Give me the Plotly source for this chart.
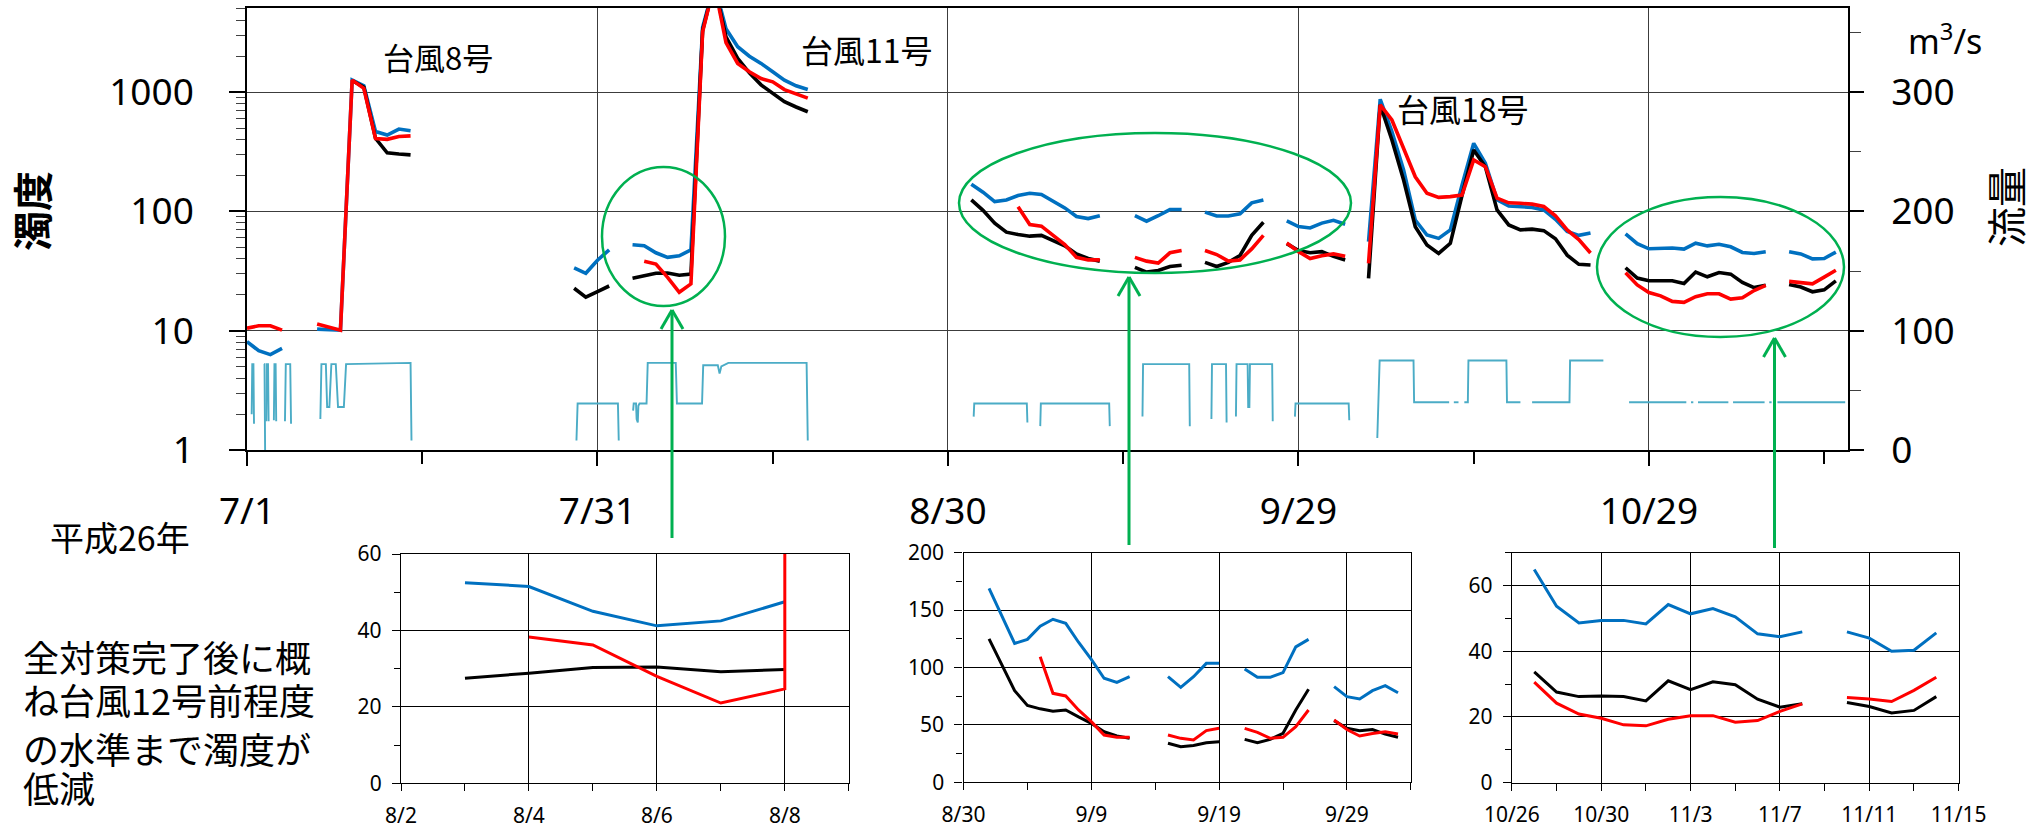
import datetime as dt
import plotly.graph_objects as go

N = None
START = dt.datetime(2014, 7, 1)
DAY = 86400000

# ---------------- daily turbidity (index 0 = 7/1/2014) ----------------
blue_jul = [8.1, 6.8, 6.3, 7.1, N, N, 10.3, 10.2, 10.1, 1260, 1130, 468, 437, 490, 475,
            N, N, N, N, N, N, N, N, N, N, N, N, N, 33.7, 30.3, 39]
blue_aug = [47.5, N, 52.5, 51.5, 45, 41.2, 42.5, 47.5, 3500, 8000, 3400, 2400, 2000, 1740,
            1480, 1260, 1130, 1050, N, N, N, N, N, N, N, N, N, N, N, N, N]
blue_sep = [169, 145, 121, 124.5, 136, 142, 138.5, 122, 107, 90.6, 87, 92, N, N, 92, 82.7,
            92, 103.6, 103.6, N, 98.7, 91.4, 91.4, 95.5, 118, 124.5, N, 83.3, 74.6, 72.6]
blue_oct = [79.8, 84.2, 78, N, 55.7, 871, 466, 222, 84.7, 63.4, 59.4, 69.8, 166, 372, 253,
            125, 111, 110, 108, 103, 86, 68, 63, 66, N, N, 64.9, 53.7, 48.6, 49.4, 49.4]
blue_nov = [48.3, 54.2, 51.4, 53, 50.5, 45.3, 44.4, 45.9, N, 45.9, 44, 40, 40.3, 45.6]

red_jul = [10.5, 11.0, 11.0, 10.1, N, N, 11.4, 10.8, 10.1, 1260, 1075, 408, 402, 425, 430,
           N, N, N, N, N, N, N, N, N, N, N, N, N, N, N, N]
red_aug = [N, N, N, 38.3, 36.2, 28, 21, 24.7, 3200, 8000, 2600, 1740, 1480, 1300, 1220, 1050,
           960, 890, N, N, N, N, N, N, N, N, N, N, N, N, N]
red_sep = [N, N, N, N, 109.4, 77.5, 75.2, 63, 52.8, 41.2, 39.2, 39.2, N, N, 41.2, 38.3, 36.9,
           45, 47, N, 47, 43.5, 38.3, 39.2, 48.5, 63, N, 54.3, 46, 40.3]
red_oct = [42.5, 44, 42.1, N, 36.7, 780, 584, 338, 195, 142, 131, 133, 137, 270, 237, 129,
           118, 117, 115, 110, 92, 70, 58, 44.8, N, N, 30.6, 24.2, 20.9, 19.6, 17.6]
red_nov = [17.3, 19.3, 20.4, 20.4, 18.4, 18.9, 21.7, 24, N, 25.9, 25.5, 24.7, 28.1, 32.1]

black_jul = [N, N, N, N, N, N, N, N, N, 1250, 1100, 410, 310, 303, 298,
             N, N, N, N, N, N, N, N, N, N, N, N, N, 22.7, 19.1, 21.3]
black_aug = [23.7, N, 27.5, 28.8, 30.3, 30.4, 29.2, 29.8, 3300, 8000, 2900, 1920, 1450, 1150,
             980, 830, 750, 685, N, N, N, N, N, N, N, N, N, N, N, N, N]
black_sep = [125, 102, 79.8, 67, 64, 62, 63, 57, 51.4, 44, 40.3, 38.3, N, N, 34, 31, 32, 34.5,
             35.4, N, 37.4, 34.5, 37.4, 42.7, 63, 81, N, 53.7, 47, 45]
black_oct = [46, 42, 39.2, N, 27.5, 780, 397, 183, 74.5, 52.3, 44.5, 54, 136, 327, 237, 103,
             77, 70, 71, 69, 59, 43, 36, 35.5, N, N, 33.7, 27.6, 26.2, 26.4, 26.2]
black_nov = [24.9, 31, 28.3, 30.7, 29.8, 25.4, 23, 24, N, 24.4, 23.2, 21.2, 22, 26.2]

blue = blue_jul + blue_aug + blue_sep + blue_oct + blue_nov
red = red_jul + red_aug + red_sep + red_oct + red_nov
black = black_jul + black_aug + black_sep + black_oct + black_nov

# ---------------- discharge (m3/s), day offset from 7/1 ----------------
flow_day = [0.40, 0.45, 0.55, 0.60, N, 1.45, 1.50, 1.55, N, 1.65, 1.70, 1.80, 1.85, N,
            2.30, 2.35, 2.45, 2.50, N, 3.25, 3.32, 3.70, 3.77, N,
            6.28, 6.37, 6.75, 6.86, 7.05, 7.22, 7.60, 7.79, 8.29, 8.48, 14.0, 14.08, N,
            28.2, 28.3, 31.75, 31.82, N,
            33.05, 33.1, 33.3, 33.35, 33.45, 33.5, 33.6, 34.2, 34.3, 36.7, 36.8, 38.95, 39.05,
            40.3, 40.45, 40.6, 41.2, 47.9, 48.0, N,
            62.2, 62.25, 66.75, 66.8, N, 67.9, 67.95, 73.8, 73.85, N,
            76.65, 76.7, 80.65, 80.7, N, 82.55, 82.6, 83.8, 83.85, N,
            84.65, 84.7, 85.65, 85.7, 85.8, 85.85, 87.75, 87.8, N,
            89.7, 89.75, 94.3, 94.35, N,
            96.75, 96.85, 96.95, 99.85, 99.9, 102.9, N, 103.3, 103.7, N,
            104.2, 104.5, 104.55, 107.8, 107.85, 109.0, N, 110.0, 113.2, 113.25, 116.1, N,
            118.3, 123.2, N, 123.6, 123.8, N, 124.2, 126.8, N, 127.2, 129.9, N,
            130.3, 130.5, N, 131.0, 136.8]
flow_val = [30, 72, 72, 22, N, 72, 72, 0, N, 24, 72, 72, 24, N,
            25, 72, 72, 24, N, 24, 72, 72, 22, N,
            26, 72, 72, 36, 36, 72, 72, 36, 36, 72, 73, 8, N,
            8, 39, 39, 8, N,
            33, 39, 39, 26, 23, 37, 39, 39, 73, 73, 39, 39, 71,
            71, 64, 70, 73, 73, 8, N,
            28, 39, 39, 23, N, 20, 39, 39, 20, N,
            28, 72, 72, 20, N, 26, 72, 72, 23, N,
            28, 72, 72, 36, 36, 72, 72, 24, N,
            28, 39, 39, 25, N,
            10, 40, 75, 75, 40, 40, N, 40, 40, N,
            40, 40, 75, 75, 40, 40, N, 40, 40, 75, 75, N,
            40, 40, N, 40, 40, N, 40, 40, N, 40, 40, N,
            40, 40, N, 40, 40]

# ---------------- styling ----------------
W, H = 2034, 828
BLUE, RED, BLACK, FLOW, GREEN = '#0070C0', '#FF0000', '#000000', '#4BACC6', '#00B050'
GRID = '#3C3C3C'
LAT = 'Noto Sans, Noto Sans CJK JP, sans-serif'
JP = 'Noto Sans CJK JP, Noto Sans, sans-serif'


def px(x):
    return x / W


def py(y):
    return 1 - y / H


dates = [START + dt.timedelta(days=i) for i in range(len(blue))]
flow_x = [None if d is None else START + dt.timedelta(days=d) for d in flow_day]

fig = go.Figure()

# main chart
fig.add_trace(go.Scatter(x=flow_x, y=flow_val, mode='lines', xaxis='x', yaxis='y2',
                         line=dict(color=FLOW, width=1.9), hoverinfo='skip'))
for ser, col in ((blue, BLUE), (black, BLACK), (red, RED)):
    fig.add_trace(go.Scatter(x=dates, y=ser, mode='lines', xaxis='x', yaxis='y',
                             line=dict(color=col, width=3.6)))


def idx(m, d):
    return (dt.datetime(2014, m, d) - START).days


# inset 1 (8/2 - 8/9)
a, b = idx(8, 2), idx(8, 8)
for ser, col in ((blue, BLUE), (black, BLACK)):
    fig.add_trace(go.Scatter(x=dates[a:b + 1], y=ser[a:b + 1], mode='lines', xaxis='x2',
                             yaxis='y3', line=dict(color=col, width=3)))
fig.add_trace(go.Scatter(x=dates[a:b + 1] + [dates[b]], y=red[a:b + 1] + [red[b + 1]],
                         mode='lines', xaxis='x2', yaxis='y3', line=dict(color=RED, width=3)))

# inset 2 (8/30 - 10/4) and inset 3 (10/26 - 11/15)
for (m0, d0, m1, d1, xa, ya) in ((8, 30, 10, 4, 'x3', 'y4'), (10, 26, 11, 14, 'x4', 'y5')):
    a, b = idx(m0, d0), min(idx(m1, d1), len(blue) - 1)
    for ser, col in ((blue, BLUE), (black, BLACK), (red, RED)):
        fig.add_trace(go.Scatter(x=dates[a:b + 1], y=ser[a:b + 1], mode='lines', xaxis=xa,
                                 yaxis=ya, line=dict(color=col, width=3)))

# ---------------- axes ----------------
tickc = dict(tickcolor='black', tickwidth=1.5)
log_minor = [m * 10 ** e for e in range(4) for m in range(2, 10) if m * 10 ** e < 5040]

layout = dict(
    template='none',
    width=W, height=H, margin=dict(l=0, r=0, t=0, b=0, pad=0), showlegend=False,
    paper_bgcolor='white', plot_bgcolor='white',
    xaxis=dict(domain=[px(247), px(1848)], anchor='y', type='date', automargin=False,
               range=[START, START + dt.timedelta(days=137.04)],
               tick0=START, dtick=30 * DAY, tickformat='%-m/%-d',
               ticks='outside', ticklen=14, **tickc,
               showgrid=True, gridcolor=GRID, gridwidth=1.4,
               showline=True, linecolor='black', linewidth=1.5, mirror=True,
               zeroline=False, ticklabelstandoff=14,
               minor=dict(tick0=START, dtick=15 * DAY, ticks='outside', ticklen=12,
                          tickcolor='black', tickwidth=1.5, showgrid=False),
               tickfont=dict(family=LAT, size=37, color='black')),
    yaxis=dict(domain=[py(450), py(8.3)], anchor='x', type='log', range=[0, 3.7025],
               automargin=False, tickmode='array', tickvals=[1, 10, 100, 1000],
               ticks='outside', ticklen=16, **tickc,
               showgrid=True, gridcolor=GRID, gridwidth=1.4,
               showline=True, linecolor='black', linewidth=1.5, mirror=True,
               zeroline=False, ticklabelstandoff=28,
               minor=dict(tickmode='array', tickvals=log_minor, ticks='outside',
                          ticklen=9, tickcolor='#404040', tickwidth=1.2, showgrid=False),
               tickfont=dict(family=LAT, size=37, color='black')),
    yaxis2=dict(domain=[py(450), py(8.3)], anchor='x', overlaying='y', side='right',
                automargin=False, range=[0, 370.2], tickmode='array', tickvals=[0, 100, 200, 300],
                ticks='outside', ticklen=14, **tickc, showgrid=False, zeroline=False,
                showline=True, linecolor='black', linewidth=1.5, ticklabelstandoff=20,
                minor=dict(tickmode='array', tickvals=list(range(50, 371, 100)),
                           ticks='outside', ticklen=11, tickcolor='#404040', tickwidth=1.2),
                tickfont=dict(family=LAT, size=37, color='black')),
)


def inset(xdom, ydom, x0, x1, dt_days, minor_days, ymax, ydt, yminor, yname):
    xa = dict(domain=[px(xdom[0]), px(xdom[1])], anchor=yname, type='date', automargin=False,
              range=[x0, x1], tick0=x0, dtick=dt_days * DAY, tickformat='%-m/%-d',
              ticks='outside', ticklen=7, tickcolor='black', tickwidth=1.2,
              showgrid=True, gridcolor='black', gridwidth=1.1,
              showline=True, linecolor='black', linewidth=1.3, mirror=True,
              zeroline=False, ticklabelstandoff=6,
              minor=dict(tick0=x0, dtick=minor_days * DAY, ticks='outside', ticklen=7,
                         tickcolor='black', tickwidth=1.2, showgrid=False),
              tickfont=dict(family=LAT, size=21, color='black'))
    ya = dict(domain=[py(ydom[1]), py(ydom[0])], range=[0, ymax], dtick=ydt, tick0=0,
              automargin=False,
              ticks='outside', ticklen=8, tickcolor='black', tickwidth=1.2,
              showgrid=True, gridcolor='black', gridwidth=1.1,
              showline=True, linecolor='black', linewidth=1.3, mirror=True,
              zeroline=False, ticklabelstandoff=6,
              minor=dict(tick0=0, dtick=yminor, ticks='outside', ticklen=6,
                         tickcolor='black', tickwidth=1.2, showgrid=False),
              tickfont=dict(family=LAT, size=21, color='black'))
    return xa, ya


eps = dt.timedelta(minutes=5)
xa, ya = inset((401, 849), (554, 783.3), dt.datetime(2014, 8, 2), dt.datetime(2014, 8, 9) + eps,
               2, 1, 60, 20, 10, 'y3')
layout['xaxis2'] = xa; ya['anchor'] = 'x2'; layout['yaxis3'] = ya
xa, ya = inset((963.5, 1410.8), (552.7, 782.3), dt.datetime(2014, 8, 30),
               dt.datetime(2014, 10, 4), 10, 5, 200, 50, 25, 'y4')
layout['xaxis3'] = xa; ya['anchor'] = 'x3'; layout['yaxis4'] = ya
xa, ya = inset((1511.9, 1958.7), (552.7, 782.7), dt.datetime(2014, 10, 26),
               dt.datetime(2014, 11, 15) + eps, 4, 2, 70, 20, 10, 'y5')
layout['xaxis4'] = xa; ya['anchor'] = 'x4'; layout['yaxis5'] = ya

fig.update_layout(**layout)

# ---------------- annotations ----------------
def text(x, y, s, size, family=JP, angle=0, xanchor='center'):
    fig.add_annotation(x=px(x), y=py(y), xref='paper', yref='paper', text=s, showarrow=False,
                       textangle=angle, xanchor=xanchor, yanchor='middle',
                       font=dict(family=family, size=size, color='black'))


text(31, 211, '<b>濁度</b>', 40, angle=-90)
text(2005, 207, '流量', 40, angle=-90)
text(1945, 40, 'm<sup>3</sup>/s', 34, family=LAT)
text(438, 57, '台風8号', 31)
text(867, 49, '台風11号', 32)
text(1463, 108, '台風18号', 32)
text(120, 536, '平成26年', 34)
for yy, s in ((656, '全対策完了後に概'), (699, 'ね台風12号前程度'),
              (748, 'の水準まで濁度が'), (787, '低減')):
    text(21, yy, s, 36, xanchor='left')

# ---------------- green highlight ellipses and arrows ----------------
for (x0, x1, y0, y1) in ((602, 725, 167, 306), (959, 1351, 133, 273), (1597, 1844, 197, 337)):
    fig.add_shape(type='circle', xref='paper', yref='paper', x0=px(x0), x1=px(x1),
                  y0=py(y1), y1=py(y0), line=dict(color=GREEN, width=2.5))
for (ax, ytip, ybot) in ((672, 310, 538), (1129, 277, 545), (1774.5, 338, 548)):
    for (xa_, ya_, xb_, yb_) in ((ax, ybot, ax, ytip), (ax - 11, ytip + 19, ax, ytip),
                                 (ax + 11, ytip + 19, ax, ytip)):
        fig.add_shape(type='line', xref='paper', yref='paper', x0=px(xa_), y0=py(ya_),
                      x1=px(xb_), y1=py(yb_), line=dict(color=GREEN, width=3))

fig.write_html('out.html', config={'displayModeBar': False},
               post_script="document.body.style.margin='0';")
